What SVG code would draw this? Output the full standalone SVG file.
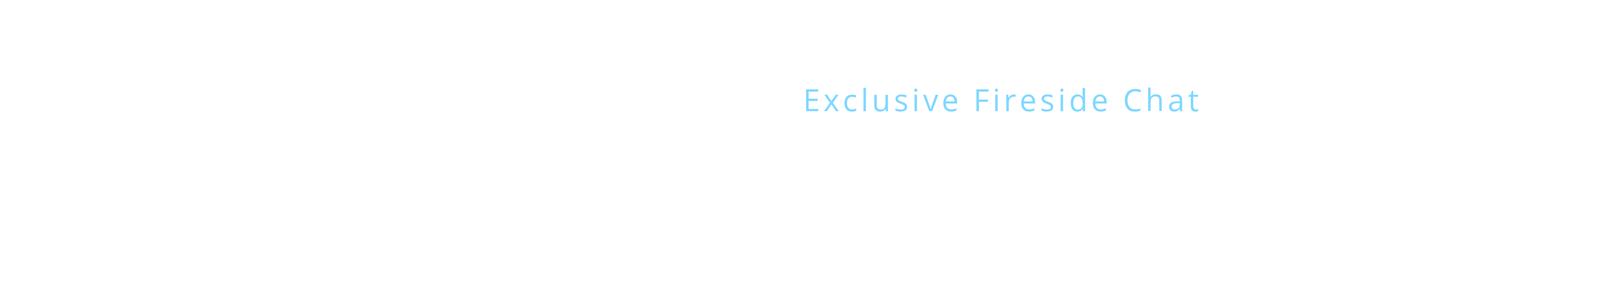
<svg xmlns="http://www.w3.org/2000/svg" width="5121" height="733" viewBox="0 0 5121 733">
  <style>
    .title { font-family: "Open Sans", "Lato", "Liberation Sans", sans-serif; font-size: 78px; font-weight: 400; fill: #80D8FF; }
  </style>
  <rect x="0" y="0" width="5121" height="733" fill="#FFFFFF"/>
  <g id="title">
    <text class="title" x="2056" y="285" textLength="1013" lengthAdjust="spacing">Exclusive Fireside Chat</text>
  </g>
</svg>
